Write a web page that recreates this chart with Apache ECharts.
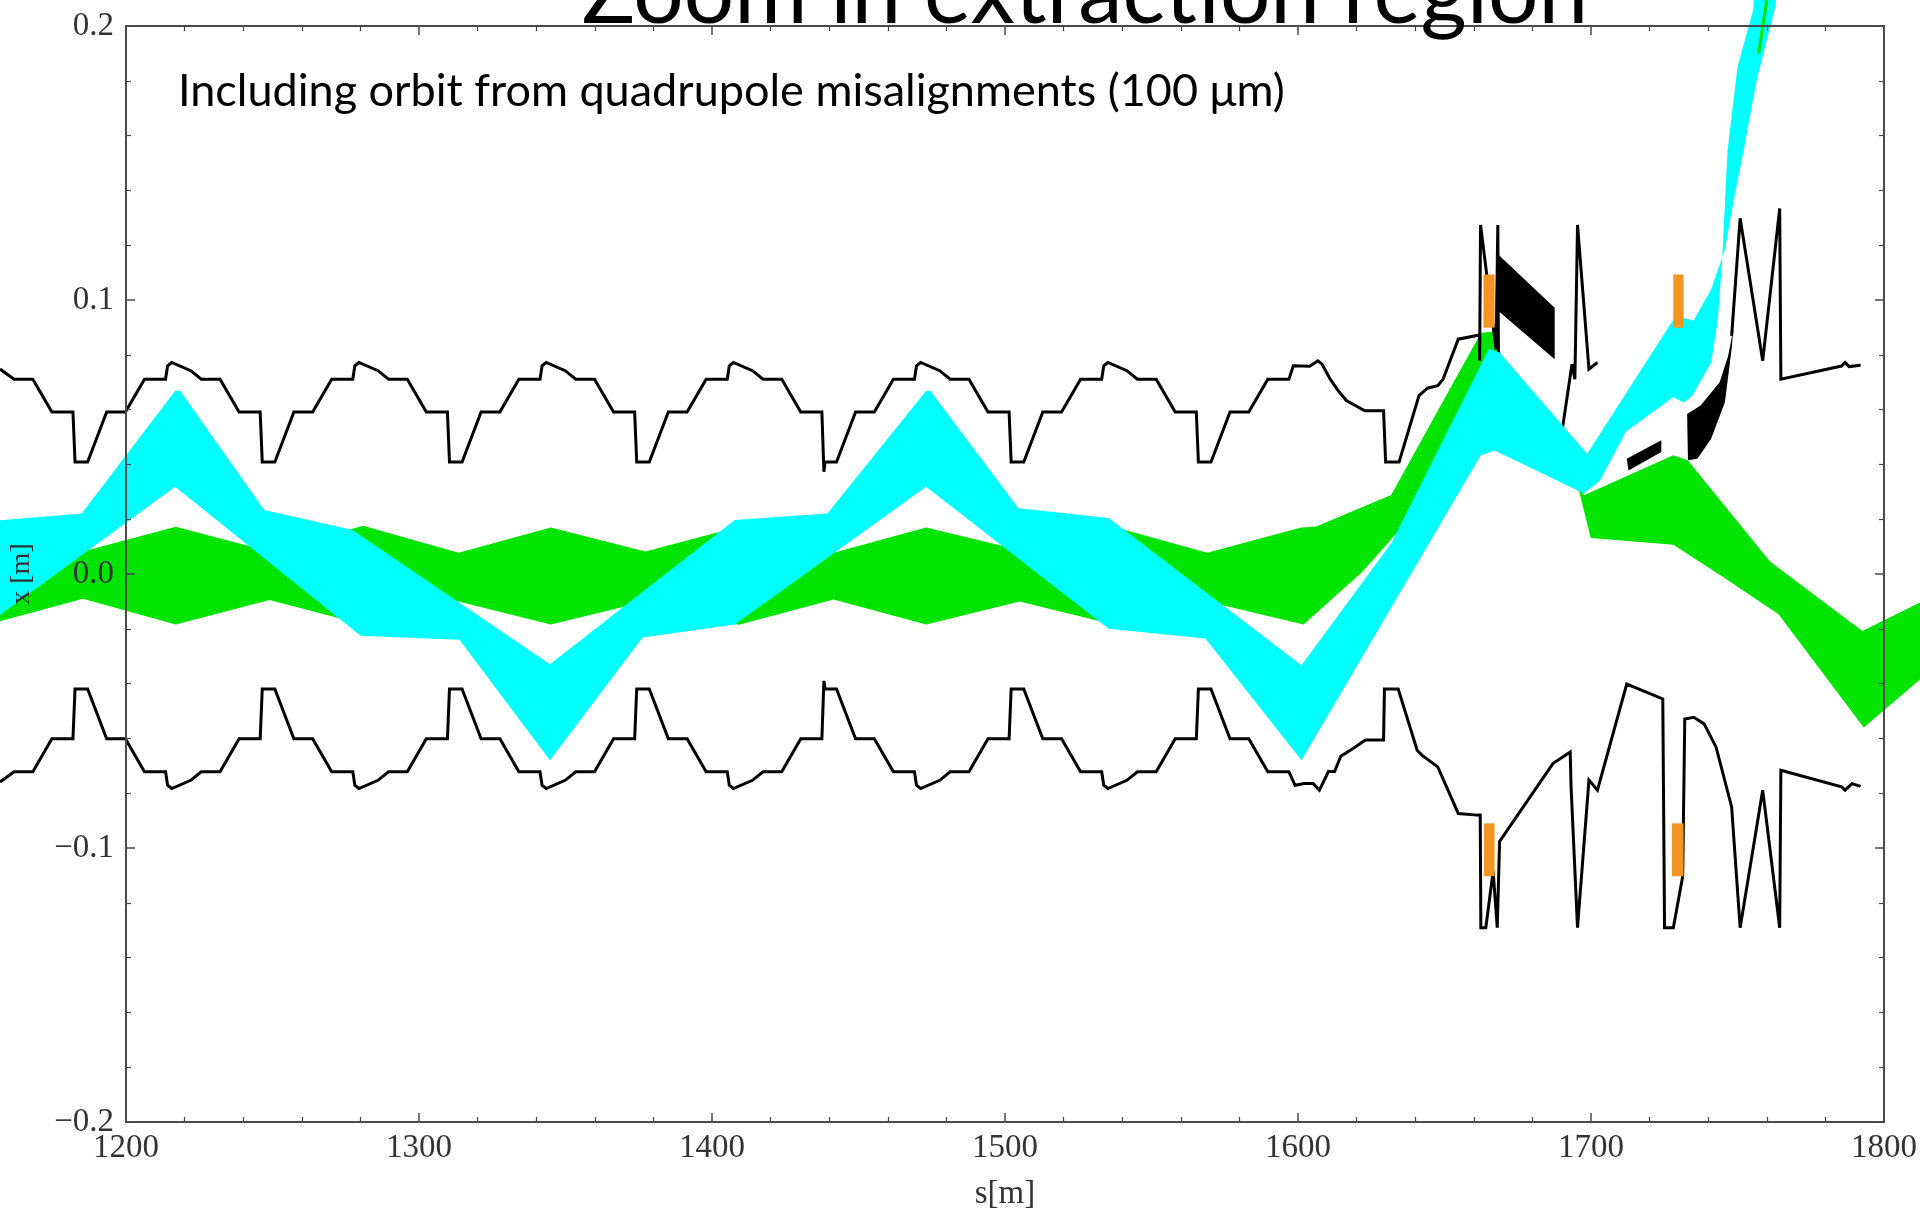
<!DOCTYPE html>
<html>
<head>
<meta charset="utf-8">
<script src="https://cdn.jsdelivr.net/npm/echarts@6/dist/echarts.min.js"></script>
<style>
html,body{margin:0;padding:0;background:#fff;}
#chart{width:1920px;height:1216px;}
</style>
</head>
<body>
<div id="chart"></div>
<script>
// ---------- DATA (s [m], x [m]) ----------
const xTickValues = [1200, 1300, 1400, 1500, 1600, 1700, 1800];
const yTickLabels = {'-0.2': '\u22120.2', '-0.1': '\u22120.1', '0': '0.0', '0.1': '0.1', '0.2': '0.2'};

const upperApertureA = [
[1157.0,0.0748],[1161.8,0.0711],[1168.2,0.0711],[1174.7,0.0591],[1181.9,0.0591],
[1182.6,0.0409],[1186.9,0.0409],[1193.4,0.0591],[1199.8,0.0591],[1206.3,0.0711],[1213.5,0.0711],[1214.2,0.0760],[1215.6,0.0772],[1222.1,0.0742],[1225.7,0.0711],[1232.1,0.0711],[1238.6,0.0591],[1245.8,0.0591],
[1246.5,0.0409],[1250.8,0.0409],[1257.3,0.0591],[1263.7,0.0591],[1270.2,0.0711],[1277.4,0.0711],[1278.1,0.0760],[1279.5,0.0772],[1286.0,0.0742],[1289.6,0.0711],[1296.0,0.0711],[1302.5,0.0591],[1309.7,0.0591],
[1310.4,0.0409],[1314.7,0.0409],[1321.2,0.0591],[1327.6,0.0591],[1334.1,0.0711],[1341.3,0.0711],[1342.0,0.0760],[1343.4,0.0772],[1349.9,0.0742],[1353.5,0.0711],[1359.9,0.0711],[1366.4,0.0591],[1373.6,0.0591],
[1374.3,0.0409],[1378.6,0.0409],[1385.1,0.0591],[1391.5,0.0591],[1398.0,0.0711],[1405.2,0.0711],[1405.9,0.0760],[1407.3,0.0772],[1413.8,0.0742],[1417.4,0.0711],[1423.8,0.0711],[1430.3,0.0591],[1437.5,0.0591],
[1438.2,0.0373],[1438.6,0.0409],[1442.5,0.0409],[1449.0,0.0591],[1455.4,0.0591],[1461.9,0.0711],[1469.1,0.0711],[1469.8,0.0760],[1471.2,0.0772],[1477.7,0.0742],[1481.3,0.0711],[1487.7,0.0711],[1494.2,0.0591],[1501.4,0.0591],
[1502.1,0.0409],[1506.4,0.0409],[1512.9,0.0591],[1519.3,0.0591],[1525.8,0.0711],[1533.0,0.0711],[1533.7,0.0760],[1535.1,0.0772],[1541.6,0.0742],[1545.2,0.0711],[1551.6,0.0711],[1558.1,0.0591],[1565.3,0.0591],
[1566.0,0.0409],[1570.3,0.0409],[1576.8,0.0591],[1583.2,0.0591],[1589.7,0.0711],[1596.9,0.0711],[1598.4,0.0760],[1604.0,0.0758],[1606.8,0.0778],[1608.2,0.0766],[1611.0,0.0711],[1613.7,0.0669],[1616.5,0.0633],[1622.8,0.0596],[1629.2,0.0596],
[1629.9,0.0409],[1634.5,0.0409],[1641.3,0.0651],[1644.2,0.0678],[1647.7,0.0687],[1649.5,0.0711],[1654.7,0.0857],[1661.5,0.0871],[1662.0,0.0871],[1662.0,0.0778],[1662.3,0.1274],[1667.6,0.0820],[1668.2,0.1274],[1668.4,0.0820],[1669.0,0.0750],[1690.0,0.0512],[1693.5,0.0766],[1694.5,0.0711],[1694.6,0.0770],[1695.4,0.1274],[1699.3,0.0748],[1702.2,0.0772]
];
const upperApertureB = [
[1748.0,0.0869],[1750.9,0.1298],[1758.6,0.0778],[1764.4,0.1334],[1764.8,0.0711],[1785.5,0.0759],[1786.7,0.0772],[1788.1,0.0757],[1792.0,0.0762]
];
const lowerAperture = [
[1157.0,-0.0759],[1161.8,-0.0722],[1168.2,-0.0722],[1174.7,-0.0601],[1181.9,-0.0601],
[1182.6,-0.0420],[1186.9,-0.0420],[1193.4,-0.0601],[1199.8,-0.0601],[1206.3,-0.0722],[1213.5,-0.0722],[1214.2,-0.0771],[1215.6,-0.0783],[1222.1,-0.0753],[1225.7,-0.0722],[1232.1,-0.0722],[1238.6,-0.0601],[1245.8,-0.0601],
[1246.5,-0.0420],[1250.8,-0.0420],[1257.3,-0.0601],[1263.7,-0.0601],[1270.2,-0.0722],[1277.4,-0.0722],[1278.1,-0.0771],[1279.5,-0.0783],[1286.0,-0.0753],[1289.6,-0.0722],[1296.0,-0.0722],[1302.5,-0.0601],[1309.7,-0.0601],
[1310.4,-0.0420],[1314.7,-0.0420],[1321.2,-0.0601],[1327.6,-0.0601],[1334.1,-0.0722],[1341.3,-0.0722],[1342.0,-0.0771],[1343.4,-0.0783],[1349.9,-0.0753],[1353.5,-0.0722],[1359.9,-0.0722],[1366.4,-0.0601],[1373.6,-0.0601],
[1374.3,-0.0420],[1378.6,-0.0420],[1385.1,-0.0601],[1391.5,-0.0601],[1398.0,-0.0722],[1405.2,-0.0722],[1405.9,-0.0771],[1407.3,-0.0783],[1413.8,-0.0753],[1417.4,-0.0722],[1423.8,-0.0722],[1430.3,-0.0601],[1437.5,-0.0601],
[1438.2,-0.0390],[1438.6,-0.0420],[1442.5,-0.0420],[1449.0,-0.0601],[1455.4,-0.0601],[1461.9,-0.0722],[1469.1,-0.0722],[1469.8,-0.0771],[1471.2,-0.0783],[1477.7,-0.0753],[1481.3,-0.0722],[1487.7,-0.0722],[1494.2,-0.0601],[1501.4,-0.0601],
[1502.1,-0.0420],[1506.4,-0.0420],[1512.9,-0.0601],[1519.3,-0.0601],[1525.8,-0.0722],[1533.0,-0.0722],[1533.7,-0.0771],[1535.1,-0.0783],[1541.6,-0.0753],[1545.2,-0.0722],[1551.6,-0.0722],[1558.1,-0.0601],[1565.3,-0.0601],
[1566.0,-0.0420],[1570.3,-0.0420],[1576.8,-0.0601],[1583.2,-0.0601],[1589.7,-0.0722],[1596.9,-0.0722],[1599.0,-0.0771],[1602.1,-0.0765],[1605.2,-0.0765],[1607.3,-0.0789],[1610.4,-0.0721],[1612.5,-0.0721],[1614.6,-0.0665],[1618.8,-0.0637],[1623.0,-0.0606],[1629.2,-0.0606],
[1629.5,-0.0420],[1634.2,-0.0420],[1640.7,-0.0644],[1642.4,-0.0662],[1647.7,-0.0704],[1654.7,-0.0874],[1661.2,-0.0880],[1662.2,-0.0880],[1662.4,-0.1291],[1664.1,-0.1291],[1666.6,-0.1085],[1668.0,-0.1291],[1668.8,-0.0976],[1687.0,-0.0692],[1692.9,-0.0650],[1693.2,-0.0777],[1695.4,-0.1291],[1699.3,-0.0752],[1702.2,-0.0789],[1712.2,-0.0402],[1724.5,-0.0456],[1725.1,-0.1291],[1728.1,-0.1291],[1731.3,-0.1103],[1732.0,-0.0529],[1735.1,-0.0523],[1738.6,-0.0547],[1742.7,-0.0632],[1748.0,-0.0850],[1750.9,-0.1291],[1758.6,-0.0789],[1764.4,-0.1291],[1764.8,-0.0716],[1785.5,-0.0777],[1786.7,-0.0789],[1789.1,-0.0765],[1792.0,-0.0775]
];

const cyanUpper = [
[1157.0,0.0196],[1184.9,0.0221],[1216.8,0.0669],[1218.5,0.0669],[1247.2,0.0234],[1277.3,0.0161],[1344.7,-0.0329],[1407.8,0.0197],[1439.4,0.0221],[1473.1,0.0669],[1474.5,0.0669],[1504.6,0.0240],[1535.4,0.0204],[1601.2,-0.0333],[1632.0,0.0115],[1665.2,0.0822],[1668.8,0.0808],[1698.7,0.0439],[1728.1,0.0928],[1731.6,0.0934],[1735.0,0.0925],[1741.0,0.1038],[1745.7,0.1183],[1749.0,0.1380],[1752.1,0.1546],[1756.5,0.1800],[1762.7,0.2060],[1766.0,0.2300]
];
const cyanLower = [
[1157.0,-0.0150],[1216.8,0.0318],[1280.1,-0.0225],[1313.8,-0.0240],[1344.7,-0.0680],[1376.3,-0.0232],[1407.8,-0.0184],[1473.1,0.0318],[1535.4,-0.0200],[1568.4,-0.0235],[1601.2,-0.0680],[1662.4,0.0433],[1667.1,0.0451],[1675.3,0.0409],[1697.6,0.0294],[1703.0,0.0340],[1712.0,0.0520],[1728.1,0.0645],[1731.6,0.0626],[1734.5,0.0649],[1741.0,0.0772],[1743.2,0.0920],[1744.8,0.1150],[1746.6,0.1546],[1750.0,0.1850],[1755.4,0.2060],[1757.0,0.2300]
];

const greenUpper = [
[1153.0,0.0172],[1185.3,0.0082],[1217.0,0.0172],[1249.0,0.0082],[1281.0,0.0176],[1313.5,0.0078],[1345.0,0.0170],[1377.3,0.0082],[1409.2,0.0172],[1441.5,0.0078],[1473.1,0.0170],[1505.0,0.0088],[1537.0,0.0172],[1569.0,0.0078],[1601.1,0.0170],[1606.0,0.0172],[1631.8,0.0288],[1662.4,0.0880],[1668.2,0.0887],[1669.0,0.0800],[1697.6,0.0287],[1728.1,0.0433],[1733.0,0.0415],[1761.1,0.0046],[1792.6,-0.0208],[1815.0,-0.0090]
];
const greenLower = [
[1153.0,-0.0184],[1185.3,-0.0090],[1217.0,-0.0184],[1249.0,-0.0095],[1281.0,-0.0184],[1313.5,-0.0100],[1345.0,-0.0184],[1377.3,-0.0100],[1409.2,-0.0185],[1441.5,-0.0093],[1473.1,-0.0184],[1505.0,-0.0100],[1537.0,-0.0184],[1569.0,-0.0100],[1601.9,-0.0184],[1622.1,0.0009],[1633.2,0.0143],[1665.0,0.0500],[1685.0,0.0410],[1696.0,0.0300],[1699.9,0.0131],[1728.1,0.0107],[1745.6,-0.0015],[1764.0,-0.0147],[1793.1,-0.0560],[1815.0,-0.0360]
];
const greenExtractedLine = [[1757.2,0.1900],[1760.8,0.2150]];

const blackSeptumA = [[1668.4,0.1165],[1687.6,0.0972],[1687.6,0.0784],[1668.4,0.0960]];
const blackSeptumB = [[1712.2,0.0421],[1724.0,0.0488],[1724.0,0.0445],[1712.8,0.0378]];
const blackCrescent = [[1732.8,0.0584],[1733.1,0.0415],[1736.3,0.0421],[1741.0,0.0494],[1745.7,0.0627],[1748.0,0.0821],[1748.6,0.0893],[1746.8,0.0796],[1743.9,0.0700],[1737.4,0.0615]];

// orange markers: [s0, v0, s1, v1]
const orangeBars = [
[1663.3,0.0899,1667.1,0.1093],
[1663.5,-0.1103,1667.1,-0.0910],
[1728.1,0.0899,1731.6,0.1093],
[1727.6,-0.1103,1731.6,-0.0910]
];

// ---------- CHART ----------
const chart = echarts.init(document.getElementById('chart'), null, {renderer: 'canvas'});

function polygonSeries(name, pts, color, z) {
  return {
    type: 'custom', name: name, z: z, clip: false, silent: true,
    data: pts, encode: {x: 0, y: 1},
    renderItem: function (params, api) {
      if (params.dataIndex !== 0) return null;
      const points = pts.map(function (p) { return api.coord(p); });
      return {type: 'polygon', shape: {points: points}, style: {fill: color}};
    }
  };
}
function polylineSeries(name, pts, color, width, z) {
  return {
    type: 'custom', name: name, z: z, clip: false, silent: true,
    data: pts, encode: {x: 0, y: 1},
    renderItem: function (params, api) {
      if (params.dataIndex !== 0) return null;
      const points = pts.map(function (p) { return api.coord(p); });
      return {type: 'polyline', shape: {points: points},
              style: {stroke: color, lineWidth: width, fill: null, lineJoin: 'miter', miterLimit: 3}};
    }
  };
}

const axisColor = '#4a4a4a';
const labelFont = {fontFamily: 'Liberation Serif', fontSize: 33, color: '#333'};

const baseX = {
  type: 'value', min: 1200, max: 1800, interval: 100, z: 10,
  axisLine: {show: true, onZero: false, lineStyle: {color: axisColor, width: 2}},
  axisTick: {show: true, inside: true, length: 9, lineStyle: {color: axisColor, width: 1.5}},
  minorTick: {show: true, splitNumber: 5, length: 5, lineStyle: {color: axisColor, width: 1.2}},
  splitLine: {show: false}
};
const baseY = {
  type: 'value', min: -0.2, max: 0.2, interval: 0.1, z: 10,
  axisLine: {show: true, onZero: false, lineStyle: {color: axisColor, width: 2}},
  axisTick: {show: true, inside: true, length: 9, lineStyle: {color: axisColor, width: 1.5}},
  minorTick: {show: true, splitNumber: 5, length: 5, lineStyle: {color: axisColor, width: 1.2}},
  splitLine: {show: false}
};

const option = {
  animation: false,
  backgroundColor: '#ffffff',
  grid: {left: 122, top: 26, width: 1762, height: 1102, containLabel: false},
  xAxis: [
    Object.assign({}, baseX, {
      position: 'bottom',
      axisLabel: Object.assign({show: true, margin: 10, formatter: function (v) { return xTickValues.indexOf(v) >= 0 ? String(v) : ''; }}, labelFont),
      name: 's[m]', nameLocation: 'middle', nameGap: 56,
      nameTextStyle: {fontFamily: 'Liberation Serif', fontSize: 33, color: '#333'}
    }),
    Object.assign({}, baseX, {position: 'top', axisLabel: {show: false}})
  ],
  yAxis: [
    Object.assign({}, baseY, {
      position: 'left',
      axisLabel: Object.assign({show: true, margin: 12, formatter: function (v) {
        const k = String(Math.round(v * 10) / 10); return yTickLabels[k] !== undefined ? yTickLabels[k] : ''; }}, labelFont),
      name: 'x [m]', nameLocation: 'middle', nameRotate: 90, nameGap: 90,
      nameTextStyle: {fontFamily: 'Liberation Serif', fontSize: 28, color: '#333'}
    }),
    Object.assign({}, baseY, {position: 'right', axisLabel: {show: false}})
  ],
  graphic: [
    {type: 'text', x: 1085, y: -6, z: 100, silent: true,
     style: {text: 'Zoom in extraction region', fontFamily: 'Lato', fontSize: 89, fill: '#000', align: 'center', verticalAlign: 'middle'}},
    {type: 'text', x: 178, y: 91, z: 100, silent: true,
     style: {text: 'Including orbit from quadrupole misalignments (100 \u03bcm)', fontFamily: 'Lato', fontSize: 45, fill: '#000', align: 'left', verticalAlign: 'middle'}}
  ],
  series: [
    polygonSeries('green beam', greenUpper.concat(greenLower.slice().reverse()), '#00e400', 1),
    polylineSeries('aperture upper', upperApertureA, '#000', 3, 2),
    polylineSeries('aperture upper extraction', upperApertureB, '#000', 3, 2),
    polylineSeries('aperture lower', lowerAperture, '#000', 3, 2),
    polygonSeries('septum blade', blackSeptumA, '#000', 2),
    polygonSeries('septum blade 2', blackSeptumB, '#000', 2),
    polygonSeries('extracted edge', blackCrescent, '#000', 2),
    polygonSeries('cyan beam', cyanUpper.concat(cyanLower.slice().reverse()), '#00ffff', 3),
    polylineSeries('green extracted', greenExtractedLine, '#00e400', 3, 4),
    {
      type: 'custom', name: 'markers', z: 5, clip: false, silent: true,
      data: orangeBars, encode: {x: [0, 2], y: [1, 3]},
      renderItem: function (params, api) {
        const p0 = api.coord([api.value(0), api.value(1)]);
        const p1 = api.coord([api.value(2), api.value(3)]);
        return {type: 'rect', shape: {x: Math.min(p0[0], p1[0]), y: Math.min(p0[1], p1[1]), width: Math.abs(p1[0] - p0[0]), height: Math.abs(p1[1] - p0[1])},
                style: {fill: '#f39423'}};
      }
    }
  ]
};
chart.setOption(option);
</script>
</body>
</html>
